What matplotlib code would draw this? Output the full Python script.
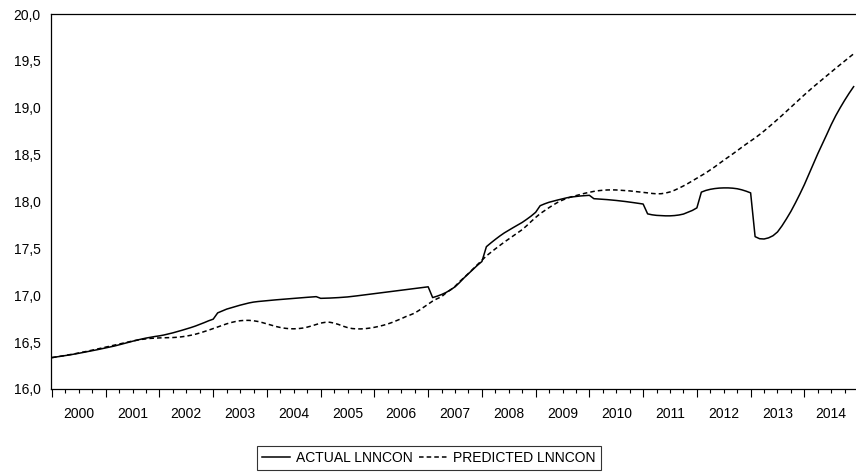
import numpy as np
import matplotlib
matplotlib.use("Agg")
import matplotlib.pyplot as plt
from matplotlib.ticker import FixedLocator, FixedFormatter

plt.rcParams['font.family'] = ['Liberation Sans', 'DejaVu Sans']

# monthly observations, 2000M01 .. 2014M12
years = [str(y) for y in range(2000, 2015)]

actual = [
    # 2000
    16.335, 16.342, 16.350, 16.357, 16.364, 16.372, 16.381, 16.390, 16.399, 16.408, 16.418, 16.428,
    # 2001
    16.438, 16.448, 16.459, 16.471, 16.484, 16.497, 16.510, 16.522, 16.533, 16.543, 16.552, 16.560,
    # 2002
    16.567, 16.576, 16.587, 16.599, 16.612, 16.626, 16.640, 16.655, 16.671, 16.689, 16.708, 16.728,
    # 2003
    16.745, 16.812, 16.832, 16.852, 16.866, 16.880, 16.894, 16.906, 16.918, 16.927, 16.933, 16.937,
    # 2004
    16.942, 16.947, 16.951, 16.955, 16.959, 16.963, 16.967, 16.971, 16.975, 16.978, 16.981, 16.985,
    # 2005
    16.967, 16.968, 16.970, 16.972, 16.975, 16.978, 16.982, 16.987, 16.993, 16.999, 17.005, 17.010,
    # 2006
    17.016, 17.022, 17.028, 17.034, 17.040, 17.046, 17.052, 17.058, 17.064, 17.070, 17.077, 17.083,
    # 2007
    17.090, 16.975, 16.990, 17.008, 17.030, 17.058, 17.090, 17.135, 17.185, 17.230, 17.275, 17.320,
    # 2008
    17.360, 17.518, 17.558, 17.596, 17.632, 17.665, 17.694, 17.722, 17.749, 17.777, 17.810, 17.845,
    # 2009
    17.885, 17.955, 17.975, 17.992, 18.005, 18.017, 18.029, 18.040, 18.048, 18.054, 18.059, 18.063,
    # 2010
    18.066, 18.030, 18.027, 18.024, 18.020, 18.016, 18.011, 18.006, 18.000, 17.994, 17.987, 17.980,
    # 2011
    17.973, 17.868, 17.858, 17.852, 17.849, 17.847, 17.847, 17.850, 17.856, 17.866, 17.885, 17.905,
    # 2012
    17.932, 18.100, 18.118, 18.130, 18.138, 18.143, 18.145, 18.145, 18.142, 18.136, 18.125, 18.110,
    # 2013
    18.092, 17.625, 17.603, 17.600, 17.612, 17.635, 17.675, 17.740, 17.815, 17.895, 17.985, 18.080,
    # 2014
    18.180, 18.290, 18.400, 18.510, 18.612, 18.715, 18.820, 18.915, 19.000, 19.080, 19.155, 19.225,
]

predicted = [
    # 2000
    16.335, 16.342, 16.350, 16.358, 16.366, 16.375, 16.384, 16.394, 16.404, 16.414, 16.425, 16.436,
    # 2001
    16.447, 16.458, 16.469, 16.480, 16.491, 16.502, 16.512, 16.521, 16.529, 16.535, 16.540, 16.543,
    # 2002
    16.545, 16.546, 16.547, 16.549, 16.552, 16.557, 16.564, 16.573, 16.584, 16.597, 16.612, 16.628,
    # 2003
    16.645, 16.662, 16.679, 16.695, 16.709, 16.720, 16.728, 16.732, 16.732, 16.728, 16.720, 16.708,
    # 2004
    16.694, 16.680, 16.667, 16.656, 16.648, 16.643, 16.642, 16.644, 16.650, 16.660, 16.673, 16.688,
    # 2005
    16.703, 16.711, 16.712, 16.703, 16.688, 16.670, 16.655, 16.645, 16.641, 16.641, 16.644, 16.650,
    # 2006
    16.658, 16.668, 16.680, 16.694, 16.711, 16.730, 16.750, 16.772, 16.790, 16.810, 16.840, 16.872,
    # 2007
    16.905, 16.938, 16.963, 16.985, 17.025, 17.058, 17.095, 17.145, 17.188, 17.233, 17.280, 17.328,
    # 2008
    17.375, 17.420, 17.458, 17.495, 17.531, 17.567, 17.600, 17.634, 17.667, 17.700, 17.742, 17.787,
    # 2009
    17.830, 17.870, 17.903, 17.935, 17.965, 17.993, 18.015, 18.035, 18.050, 18.063, 18.075, 18.088,
    # 2010
    18.098, 18.108, 18.115, 18.120, 18.123, 18.124, 18.123, 18.120, 18.117, 18.113, 18.108, 18.103,
    # 2011
    18.097, 18.092, 18.086, 18.082, 18.083, 18.090, 18.102, 18.120, 18.142, 18.166, 18.192, 18.220,
    # 2012
    18.247, 18.275, 18.305, 18.337, 18.370, 18.405, 18.440, 18.473, 18.507, 18.542, 18.577, 18.612,
    # 2013
    18.645, 18.678, 18.714, 18.752, 18.792, 18.833, 18.875, 18.918, 18.962, 19.006, 19.050, 19.094,
    # 2014
    19.138, 19.180, 19.222, 19.262, 19.302, 19.342, 19.382, 19.421, 19.460, 19.498, 19.537, 19.575,
]

y_ticks = [16.0, 16.5, 17.0, 17.5, 18.0, 18.5, 19.0, 19.5, 20.0]
y_labels = ['16,0', '16,5', '17,0', '17,5', '18,0', '18,5', '19,0', '19,5', '20,0']

t = np.arange(len(actual))

fig = plt.figure(figsize=(8.56, 4.73), dpi=100)
ax = fig.add_axes([0.059, 0.1776, 0.9398, 0.7928])

ax.plot(t, actual, color='black', lw=1.1, label='ACTUAL LNNCON')
ax.plot(t, predicted, color='black', lw=1.1, dashes=(3, 2), label='PREDICTED LNNCON')

ax.set_xlim(-0.33, 179.3)
ax.set_ylim(16.0, 20.0)

# year boundaries as major ticks, quarters as minor ticks; year names sit mid-year
n_years = len(years)
ax.xaxis.set_major_locator(FixedLocator([12 * k for k in range(n_years)]))
ax.xaxis.set_major_formatter(FixedFormatter([''] * n_years))
minor_pos, minor_lab = [], []
for k, y in enumerate(years):
    minor_pos += [12 * k + 3, 12 * k + 6, 12 * k + 9]
    minor_lab += ['', y, '']
ax.xaxis.set_minor_locator(FixedLocator(minor_pos))
ax.xaxis.set_minor_formatter(FixedFormatter(minor_lab))
ax.tick_params(axis='x', which='major', direction='out', length=6, width=0.8)
ax.tick_params(axis='x', which='minor', direction='out', length=3, width=0.8,
               labelsize=10, pad=10)

ax.yaxis.set_major_locator(FixedLocator(y_ticks))
ax.yaxis.set_major_formatter(FixedFormatter(y_labels))
ax.tick_params(axis='y', length=0, labelsize=10, pad=7)

ax.spines['right'].set_visible(False)
for s in ['left', 'top', 'bottom']:
    ax.spines[s].set_linewidth(0.9)

leg = fig.legend(loc='upper center', bbox_to_anchor=(0.501, 1 - 446 / 473), ncol=2,
                 fontsize=10, frameon=True, fancybox=False, edgecolor='black',
                 handlelength=2.0, handletextpad=0.5, columnspacing=0.4,
                 borderpad=0.35, borderaxespad=0)
leg.get_frame().set_linewidth(0.8)

fig.savefig('out.png', dpi=100)
